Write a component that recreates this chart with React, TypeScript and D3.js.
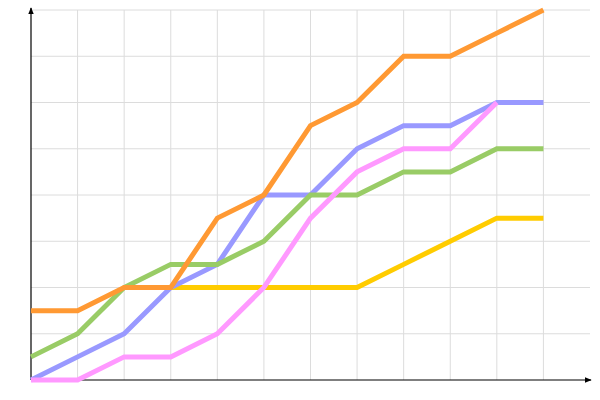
import React from "react";
import * as d3 from "d3";

const xIndex = [0, 1, 2, 3, 4, 5, 6, 7, 8, 9, 10, 11];
const orange = [1.5, 1.5, 2, 2, 3.5, 4, 5.5, 6, 7, 7, 7.5, 8];
const green = [0.5, 1, 2, 2.5, 2.5, 3, 4, 4, 4.5, 4.5, 5, 5];
const blue = [0, 0.5, 1, 2, 2.5, 4, 4, 5, 5.5, 5.5, 6, 6];
const pink = [0, 0, 0.5, 0.5, 1, 2, 3.5, 4.5, 5, 5, 6, null];
const yellow = [null, null, 2, 2, 2, 2, 2, 2, 2.5, 3, 3.5, 3.5];
const yTicks = [0, 1, 2, 3, 4, 5, 6, 7, 8];
const xTicks = [0, 1, 2, 3, 4, 5, 6, 7, 8, 9, 10, 11];

const series = [
  { name: "yellow", values: yellow, color: "#ffcc00" },
  { name: "blue", values: blue, color: "#9999ff" },
  { name: "green", values: green, color: "#99cc66" },
  { name: "pink", values: pink, color: "#ff99ff" },
  { name: "orange", values: orange, color: "#ff9933" },
];

export default function App() {
  const W = 600, H = 400;
  const left = 31, right = 590, top = 10, bottom = 380;
  const x = d3.scaleLinear().domain([0, 12]).range([left, right]);
  const y = d3.scaleLinear().domain([0, 8]).range([bottom, top]);
  const line = d3
    .line<number | null>()
    .defined((d) => d !== null)
    .x((_, i) => x(xIndex[i]))
    .y((d) => y(d as number));

  return (
    <svg width={W} height={H} style={{ position: "absolute", left: 0, top: 0, background: "#fff" }}>
      <defs>
        <marker id="arr" viewBox="0 0 10 10" refX="9" refY="5" markerWidth="6" markerHeight="6" orient="auto">
          <path d="M0,1 L10,5 L0,9 z" fill="#000" />
        </marker>
      </defs>
      <g>
        {xTicks.filter((t) => t > 0).map((t) => (
          <line key={"vx" + t} x1={x(t)} x2={x(t)} y1={top} y2={bottom} stroke="#dcdcdc" strokeWidth={1} />
        ))}
        {yTicks.filter((t) => t > 0).map((t) => (
          <line key={"hy" + t} x1={left} x2={right} y1={y(t)} y2={y(t)} stroke="#dcdcdc" strokeWidth={1} />
        ))}
      </g>
      <line x1={left} x2={left} y1={bottom} y2={top - 2} stroke="#000" strokeWidth={1.2} markerEnd="url(#arr)" />
      <line x1={left} x2={right + 1} y1={bottom} y2={bottom} stroke="#000" strokeWidth={1.2} markerEnd="url(#arr)" />
      {series.map((s) => (
        <path key={s.name} d={line(s.values) || ""} fill="none" stroke={s.color} strokeWidth={5} />
      ))}
    </svg>
  );
}
